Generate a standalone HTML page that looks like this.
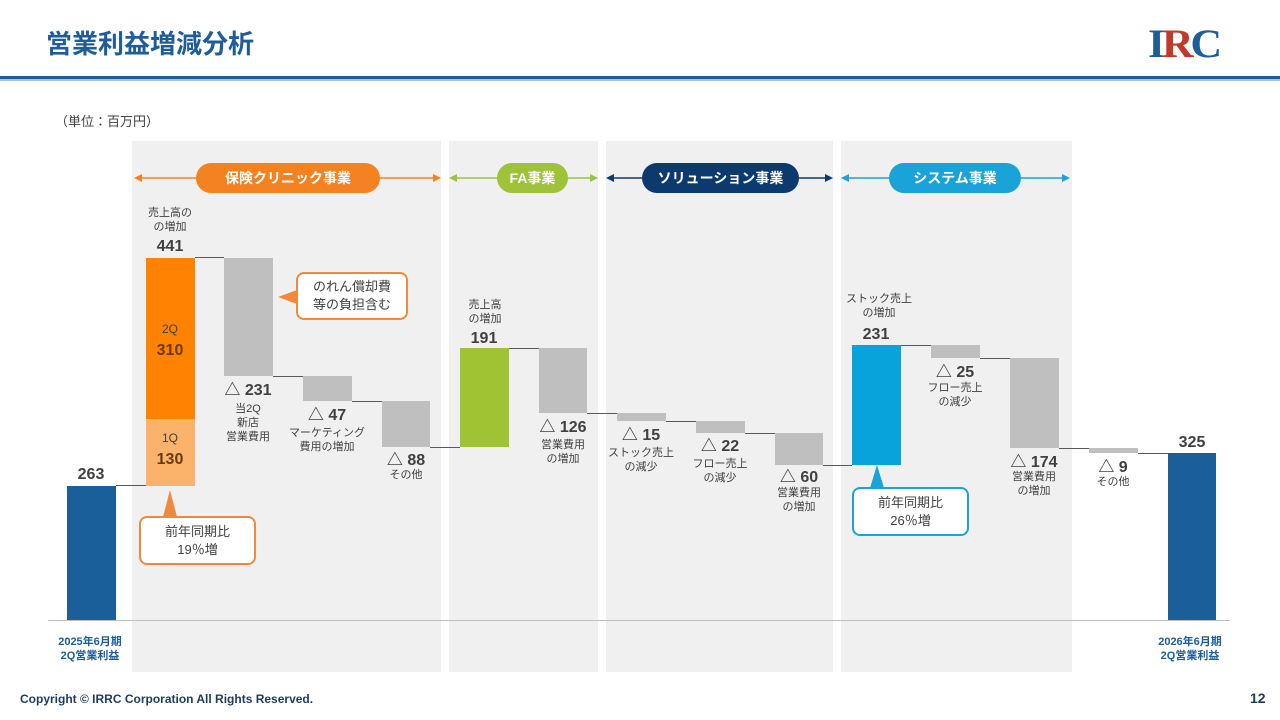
<!DOCTYPE html>
<html><head><meta charset="utf-8"><style>
*{margin:0;padding:0;box-sizing:border-box}
body{width:1280px;height:720px;position:relative;background:#fff;font-family:"Liberation Sans","Noto Sans CJK JP",sans-serif;overflow:hidden;color:#404040}
.a{position:absolute}
.p{position:absolute;background:#f0f0f0;top:141px;height:531px}
.b{position:absolute}
.g{background:#bfbfbf}
.c{position:absolute;height:1px;background:#595959}
.pill{position:absolute;height:30px;border-radius:15px;color:#fff;font-weight:bold;font-size:14px;text-align:center;line-height:30px}
.t{position:absolute;text-align:center;font-size:11px;line-height:14px;color:#404040}
.n{position:absolute;text-align:center;font-size:16px;font-weight:bold;color:#404040}
.box{position:absolute;background:#fff;border-radius:8px;text-align:center;font-size:13px;line-height:18px;color:#404040}
</style></head><body>
<div class="a" style="left:46px;top:24px;font-size:26px;font-weight:bold;color:#1f5d99">営業利益増減分析</div>
<div class="a" style="left:1148px;top:20px;font-family:'Liberation Serif',serif;font-size:40px;font-weight:bold;color:#1f5d99;letter-spacing:-3px;transform:scaleX(1.1);transform-origin:left">I<span style="color:#c0392b">R</span>C</div>
<div class="a" style="left:0;top:76px;width:1280px;height:3px;background:#1f5d99"></div>
<div class="a" style="left:0;top:79px;width:1280px;height:2px;background:#a9c4e0"></div>
<div class="a" style="left:55px;top:111px;font-size:13px">（単位：百万円）</div>

<div class="p" style="left:132px;width:309px"></div>
<div class="p" style="left:449px;width:149px"></div>
<div class="p" style="left:606px;width:227px"></div>
<div class="p" style="left:841px;width:231px"></div>

<svg class="a" style="left:0;top:0" width="1280" height="720">
<g stroke-width="1.5" fill="none">
<line x1="136" y1="178" x2="438" y2="178" stroke="#f58220"/>
<line x1="451" y1="178" x2="596" y2="178" stroke="#9ec33b"/>
<line x1="608" y1="178" x2="831" y2="178" stroke="#0d3a6e"/>
<line x1="843" y1="178" x2="1068" y2="178" stroke="#1aa3d8"/>
</g>
<polygon points="134,178 142,174 142,182" fill="#f58220"/><polygon points="441,178 433,174 433,182" fill="#f58220"/>
<polygon points="449,178 457,174 457,182" fill="#9ec33b"/><polygon points="598,178 590,174 590,182" fill="#9ec33b"/>
<polygon points="606,178 614,174 614,182" fill="#0d3a6e"/><polygon points="833,178 825,174 825,182" fill="#0d3a6e"/>
<polygon points="841,178 849,174 849,182" fill="#1aa3d8"/><polygon points="1070,178 1062,174 1062,182" fill="#1aa3d8"/>
<line x1="48" y1="620.5" x2="1230" y2="620.5" stroke="#bfbfbf"/>
</svg>

<div class="pill" style="left:196px;top:163px;width:184px;background:#f58220">保険クリニック事業</div>
<div class="pill" style="left:497px;top:163px;width:71px;background:#9ec33b">FA事業</div>
<div class="pill" style="left:642px;top:163px;width:157px;background:#0d3a6e">ソリューション事業</div>
<div class="pill" style="left:889px;top:163px;width:132px;background:#1aa3d8">システム事業</div>

<div class="b" style="left:67px;top:486px;width:49px;height:134px;background:#1a5e9a"></div>
<div class="b" style="left:146px;top:258px;width:49px;height:161px;background:#ff8200"></div>
<div class="b" style="left:146px;top:419px;width:49px;height:67px;background:#fbb36b"></div>
<div class="b g" style="left:224px;top:258px;width:49px;height:118px"></div>
<div class="b g" style="left:303px;top:376px;width:49px;height:25px"></div>
<div class="b g" style="left:382px;top:401px;width:48px;height:46px"></div>
<div class="b" style="left:460px;top:348px;width:49px;height:99px;background:#a0c334"></div>
<div class="b g" style="left:539px;top:348px;width:48px;height:65px"></div>
<div class="b g" style="left:617px;top:413px;width:49px;height:8px"></div>
<div class="b g" style="left:696px;top:421px;width:49px;height:12px"></div>
<div class="b g" style="left:775px;top:433px;width:48px;height:32px"></div>
<div class="b" style="left:852px;top:345px;width:49px;height:120px;background:#07a3da"></div>
<div class="b g" style="left:931px;top:345px;width:49px;height:13px"></div>
<div class="b g" style="left:1010px;top:358px;width:49px;height:90px"></div>
<div class="b g" style="left:1089px;top:448px;width:49px;height:5px"></div>
<div class="b" style="left:1168px;top:453px;width:48px;height:167px;background:#1a5e9a"></div>

<div class="c" style="left:116px;top:485px;width:30px"></div>
<div class="c" style="left:195px;top:257px;width:29px"></div>
<div class="c" style="left:273px;top:376px;width:30px"></div>
<div class="c" style="left:352px;top:401px;width:30px"></div>
<div class="c" style="left:430px;top:447px;width:30px"></div>
<div class="c" style="left:509px;top:348px;width:30px"></div>
<div class="c" style="left:587px;top:413px;width:30px"></div>
<div class="c" style="left:666px;top:421px;width:30px"></div>
<div class="c" style="left:745px;top:433px;width:30px"></div>
<div class="c" style="left:823px;top:465px;width:29px"></div>
<div class="c" style="left:901px;top:345px;width:30px"></div>
<div class="c" style="left:980px;top:358px;width:30px"></div>
<div class="c" style="left:1059px;top:448px;width:30px"></div>
<div class="c" style="left:1138px;top:453px;width:30px"></div>

<div class="n" style="left:61px;top:466px;width:60px">263</div>
<div class="t" style="left:130px;top:206px;width:80px">売上高の<br>の増加</div>
<div class="n" style="left:140px;top:238px;width:60px">441</div>
<div class="t" style="left:140px;top:322px;width:60px;font-size:12px">2Q</div>
<div class="n" style="left:140px;top:342px;width:60px;color:#6b3a10">310</div>
<div class="t" style="left:140px;top:431px;width:60px;font-size:12px">1Q</div>
<div class="n" style="left:140px;top:451px;width:60px;color:#6b3a10">130</div>
<div class="n" style="left:213px;top:376px;width:70px">△ 231</div>
<div class="t" style="left:213px;top:402px;width:70px">当2Q<br>新店<br>営業費用</div>
<div class="n" style="left:292px;top:401px;width:70px">△ 47</div>
<div class="t" style="left:277px;top:426px;width:100px">マーケティング<br>費用の増加</div>
<div class="n" style="left:371px;top:446px;width:70px">△ 88</div>
<div class="t" style="left:371px;top:468px;width:70px">その他</div>
<div class="t" style="left:450px;top:298px;width:70px">売上高<br>の増加</div>
<div class="n" style="left:454px;top:330px;width:60px">191</div>
<div class="n" style="left:528px;top:413px;width:70px">△ 126</div>
<div class="t" style="left:528px;top:438px;width:70px">営業費用<br>の増加</div>
<div class="n" style="left:606px;top:421px;width:70px">△ 15</div>
<div class="t" style="left:601px;top:446px;width:80px">ストック売上<br>の減少</div>
<div class="n" style="left:685px;top:432px;width:70px">△ 22</div>
<div class="t" style="left:680px;top:457px;width:80px">フロー売上<br>の減少</div>
<div class="n" style="left:764px;top:463px;width:70px">△ 60</div>
<div class="t" style="left:764px;top:486px;width:70px">営業費用<br>の増加</div>
<div class="t" style="left:831px;top:292px;width:96px">ストック売上<br>の増加</div>
<div class="n" style="left:846px;top:326px;width:60px">231</div>
<div class="n" style="left:920px;top:358px;width:70px">△ 25</div>
<div class="t" style="left:915px;top:381px;width:80px">フロー売上<br>の減少</div>
<div class="n" style="left:999px;top:448px;width:70px">△ 174</div>
<div class="t" style="left:999px;top:470px;width:70px">営業費用<br>の増加</div>
<div class="n" style="left:1078px;top:453px;width:70px">△ 9</div>
<div class="t" style="left:1078px;top:475px;width:70px">その他</div>
<div class="n" style="left:1162px;top:434px;width:60px">325</div>

<div class="box" style="left:296px;top:272px;width:112px;height:48px;border:2px solid #f08a3a;padding-top:4px">のれん償却費<br>等の負担含む</div>
<svg class="a" style="left:276px;top:287px" width="22" height="20"><polygon points="21,3 2,10 21,17" fill="#f08a3a"/></svg>
<div class="box" style="left:139px;top:516px;width:117px;height:49px;border:2px solid #f08a3a;padding-top:5px">前年同期比<br>19％増</div>
<svg class="a" style="left:160px;top:489px" width="20" height="29"><polygon points="10,1 3,28 17,28" fill="#f08a3a"/></svg>
<div class="box" style="left:852px;top:487px;width:117px;height:49px;border:2px solid #1aa3d8;padding-top:5px">前年同期比<br>26％増</div>
<svg class="a" style="left:867px;top:464px" width="20" height="25"><polygon points="10,1 3,24 17,24" fill="#1aa3d8"/></svg>

<div class="t" style="left:45px;top:635px;width:90px;font-weight:bold;color:#1f5d99">2025年6月期<br>2Q営業利益</div>
<div class="t" style="left:1145px;top:635px;width:90px;font-weight:bold;color:#1f5d99">2026年6月期<br>2Q営業利益</div>
<div class="a" style="left:20px;top:692px;font-size:12px;font-weight:bold;color:#1f3b5c">Copyright © IRRC Corporation All Rights Reserved.</div>
<div class="a" style="left:1250px;top:690px;font-size:14px;font-weight:bold;color:#1f3b5c">12</div>
</body></html>
